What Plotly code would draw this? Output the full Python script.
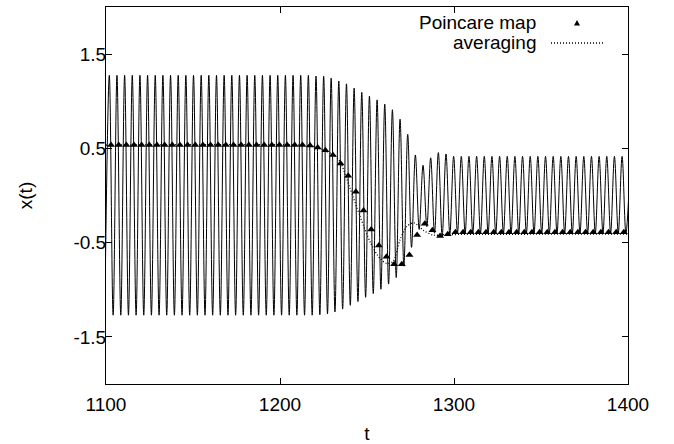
import plotly.graph_objects as go

# ---------------- data ----------------
# Poincare-map sample times (one per cycle) and values
t_poincare = [1102.9, 1107.3, 1111.7, 1116.1, 1120.5, 1124.9, 1129.3, 1133.7, 1138.1, 1142.5,
              1146.9, 1151.3, 1155.7, 1160.1, 1164.5, 1168.9, 1173.3, 1177.7, 1182.1, 1186.5,
              1190.9, 1195.3, 1199.7, 1204.1, 1208.5, 1212.9, 1217.3, 1221.7, 1226.1, 1230.4,
              1234.8, 1239.2, 1243.6, 1248.0, 1252.4, 1256.8, 1261.2, 1265.6, 1270.0, 1274.4,
              1278.8, 1283.2, 1287.6, 1292.0, 1296.4, 1300.8, 1305.2, 1309.6, 1314.0, 1318.4,
              1322.8, 1327.2, 1331.6, 1336.0, 1340.4, 1344.8, 1349.2, 1353.6, 1358.0, 1362.4,
              1366.8, 1371.2, 1375.6, 1380.0, 1384.4, 1388.8, 1393.2, 1397.6]
x_poincare = [0.535] * 26 + [0.53, 0.51, 0.48, 0.43, 0.34, 0.21, 0.04, -0.16, -0.36, -0.53,
                             -0.65, -0.73, -0.73, -0.63, -0.42, -0.30, -0.37, -0.43, -0.41,
                             -0.39] + [-0.39] * 22

# envelope of the fast oscillation: maximum and minimum reached in each cycle
x_peak = [1.275] * 27 + [1.268, 1.265, 1.245, 1.215, 1.185, 1.14, 1.095, 1.055, 1.015, 0.97,
                         0.91, 0.81, 0.65, 0.43, 0.32, 0.40, 0.455, 0.44, 0.415] + [0.415] * 22
x_trough = [-1.27] * 27 + [-1.265, -1.255, -1.235, -1.205, -1.165, -1.125, -1.08, -1.04, -0.995,
                           -0.94, -0.87, -0.75, -0.55, -0.36, -0.33, -0.40, -0.43, -0.41,
                           -0.395] + [-0.40] * 22
# timing of the extrema relative to each Poincare sample
peak_lead = 1.0
trough_lag = 1.2
# oscillation edges just outside the window
t_first_trough, x_first_trough = 1099.3, -1.27
t_last_peak, x_last_peak = 1401.4, 0.415

# averaged solution
t_avg = [1100, 1210, 1219, 1227, 1231, 1234.5, 1240, 1246, 1252, 1257.5, 1261.3, 1265,
         1269, 1272.8, 1277, 1282.4, 1288, 1295, 1400]
x_avg = [0.535, 0.535, 0.52, 0.465, 0.43, 0.36, 0.09, -0.22, -0.50, -0.67, -0.72, -0.70,
         -0.47, -0.33, -0.29, -0.37, -0.42, -0.415, -0.41]

x_ticks = [1100, 1200, 1300, 1400]
y_ticks = [-1.5, -0.5, 0.5, 1.5]
y_ticktext = ["-1.5", "-0.5", "0.5", "1.5"]

# ---------------- build oscillation path through extrema ----------------
t_osc = [t_first_trough]
x_osc = [x_first_trough]
for tp, xp, xt in zip(t_poincare, x_peak, x_trough):
    t_osc += [tp - peak_lead, tp + trough_lag]
    x_osc += [xp, xt]
t_osc.append(t_last_peak)
x_osc.append(x_last_peak)

FONT = "Liberation Sans, Arial, Helvetica, sans-serif"
fig = go.Figure()
fig.add_trace(go.Scatter(x=t_osc, y=x_osc, mode="lines",
                         line=dict(color="black", width=1, shape="spline", smoothing=1.0),
                         showlegend=False, hoverinfo="skip"))
fig.add_trace(go.Scatter(x=t_avg, y=x_avg, mode="lines", name="averaging",
                         line=dict(color="black", width=1.3, dash="1px,2px",
                                   shape="spline", smoothing=0.8),
                         showlegend=False))
fig.add_trace(go.Scatter(x=t_poincare, y=x_poincare, mode="markers", name="Poincare map",
                         marker=dict(symbol="triangle-up", size=7, color="black"),
                         showlegend=False, cliponaxis=True))

L, R, T, B = 106, 46, 7, 60
W, H = 674, 444
pw, ph = W - L - R, H - T - B

def px(xp):
    return (xp - L) / pw

def py(yp):
    return 1 - (yp - T) / ph

# manual gnuplot-style key (text right, sample left)
fig.add_annotation(x=px(538), y=py(23), xref="paper", yref="paper", text="Poincare map",
                   showarrow=False, xanchor="right", yanchor="middle",
                   font=dict(size=19, color="black", family=FONT))
fig.add_annotation(x=px(538), y=py(43), xref="paper", yref="paper", text="averaging",
                   showarrow=False, xanchor="right", yanchor="middle",
                   font=dict(size=19, color="black", family=FONT))
cx, cy = 577, 23
fig.add_shape(type="path", xref="paper", yref="paper",
              path=f"M {px(cx-3)},{py(cy+2.5)} L {px(cx+3)},{py(cy+2.5)} L {px(cx)},{py(cy-3)} Z",
              fillcolor="black", line=dict(width=0))
fig.add_shape(type="line", xref="paper", yref="paper", x0=px(551), x1=px(603), y0=py(43), y1=py(43),
              line=dict(color="black", width=1.3, dash="1px,2px"))

axis_common = dict(showgrid=False, zeroline=False, showline=True, linecolor="black", linewidth=1,
                   ticks="inside", ticklen=6, tickcolor="black", tickwidth=1, mirror="allticks",
                   automargin=False,
                   tickfont=dict(size=19, color="black", family=FONT))
fig.update_xaxes(range=[1100, 1400], tickvals=x_ticks, ticktext=[str(v) for v in x_ticks],
                 ticklabelstandoff=3,
                 title=dict(text="t", font=dict(size=19, color="black", family=FONT), standoff=15),
                 **axis_common)
fig.update_yaxes(range=[-2, 2], tickvals=y_ticks, ticktext=y_ticktext,
                 ticklabelstandoff=-5,
                 title=dict(text="x(t)", font=dict(size=19, color="black", family=FONT), standoff=35),
                 **axis_common)
fig.update_layout(width=W, height=H, margin=dict(l=L, r=R, t=T, b=B, autoexpand=False),
                  paper_bgcolor="white", plot_bgcolor="white", showlegend=False,
                  font=dict(family=FONT, color="black"))
fig.write_html("out.html")
